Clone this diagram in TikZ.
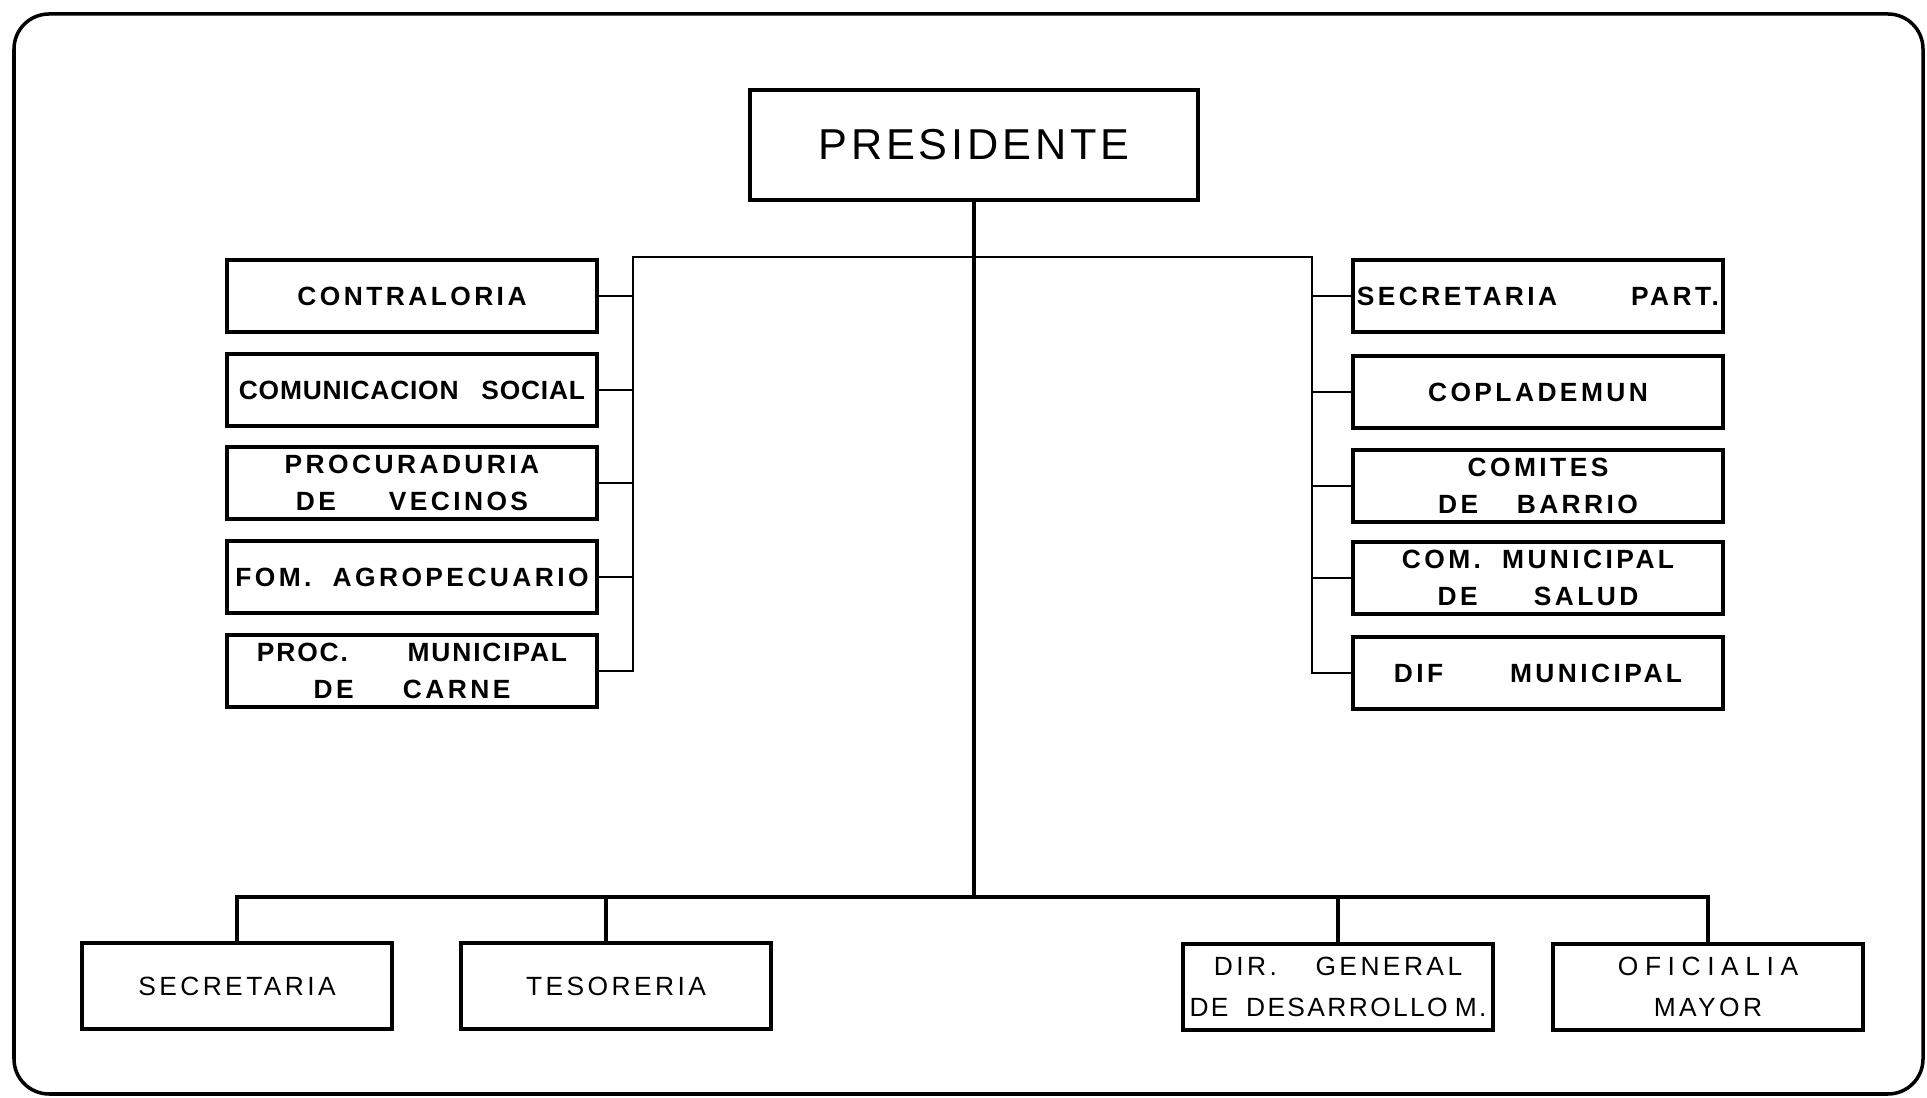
\documentclass[tikz,border=0pt]{standalone}
\usepackage{fontspec}
\setmainfont{Liberation Sans}
\newfontfamily\orgfont[LetterSpace=13]{Liberation Sans}
\usetikzlibrary{positioning,calc}

\begin{document}
\begin{tikzpicture}[x=0.01cm, y=-0.01cm,
		dept/.style={rectangle,draw,line width=1.1pt,inner sep=0pt,minimum width=3.70cm,minimum height=0.72cm,align=center,font=\orgfont\bfseries\fontsize{7.5}{10.4}\selectfont},
		unit/.style={rectangle,draw,line width=1.2pt,inner sep=0pt,minimum width=3.10cm,minimum height=0.86cm,align=center,font=\orgfont\fontsize{7.5}{11.6}\selectfont},
		link/.style={line width=0.6pt},
		trunk/.style={line width=1.3pt}]
		\useasboundingbox (0,0) rectangle (1927,1098);
		\draw[line width=1pt,rounded corners=0.35cm] (14,14) rectangle (1923,1094);

		\node[rectangle,draw,line width=1.2pt,minimum width=4.48cm,minimum height=1.10cm,font=\orgfont\addfontfeature{LetterSpace=9}\fontsize{12.3}{14}\selectfont] (pres) at (974,145) {PRESIDENTE};

		\node[dept] (contra) at (412,296) {CONTRALORIA};
		\node[dept] (comsoc) at (412,390) {\addfontfeature{LetterSpace=3}COMUNICACION\hspace{6.5pt}SOCIAL};
		\node[dept] (procv) at (412,483) {PROCURADURIA\\DE\hspace{15pt}VECINOS};
		\node[dept] (fom) at (412,577) {FOM.\hspace{6pt}AGROPECUARIO};
		\node[dept] (procar) at (412,671) {{\addfontfeature{LetterSpace=7}PROC.\hspace{17pt}MUNICIPAL}\\DE\hspace{14pt}CARNE};

		\node[dept] (secp) at (1538,296) {SECRETARIA\hspace{21pt}PART.};
		\node[dept] (copla) at (1538,392) {COPLADEMUN};
		\node[dept] (comit) at (1538,486) {COMITES\\DE\hspace{11pt}BARRIO};
		\node[dept] (comsal) at (1538,578) {COM.\hspace{6pt}MUNICIPAL\\DE\hspace{16pt}SALUD};
		\node[dept] (dif) at (1538,673) {DIF\hspace{19pt}MUNICIPAL};

		\node[unit] (sec) at (237,986) {SECRETARIA};
		\node[unit] (tes) at (616,986) {TESORERIA};
		\node[unit] (dir) at (1338,987) {DIR.\hspace{11pt}GENERAL\\{\addfontfeature{LetterSpace=9}DE\hspace{5pt}DESARROLLO\hspace{2pt}M.}};
		\node[unit] (ofi) at (1708,987) {{\addfontfeature{LetterSpace=25}OFICIALIA}\\MAYOR};

		\coordinate (busTL) at (633,257);
		\coordinate (busTR) at (1312,257);
		\coordinate (bus) at (974,897);

		\draw[trunk] (pres.south) -- (bus);
		\draw[trunk] (sec.north) |- (bus) -| (ofi.north);
		\draw[trunk] ([xshift=-0.1cm]tes.north) -- ([xshift=-0.1cm]tes.north |- bus);
		\draw[trunk] (dir.north) -- (dir.north |- bus);

		\draw[link] (procar.east) -| (busTL) -- (busTR) |- (dif.west);
		\foreach \n in {contra,comsoc,procv,fom}
			\draw[link] (\n.east) -- (\n.east -| busTL);
		\foreach \n in {secp,copla,comit,comsal}
			\draw[link] (\n.west) -- (\n.west -| busTR);
\end{tikzpicture}
\end{document}
